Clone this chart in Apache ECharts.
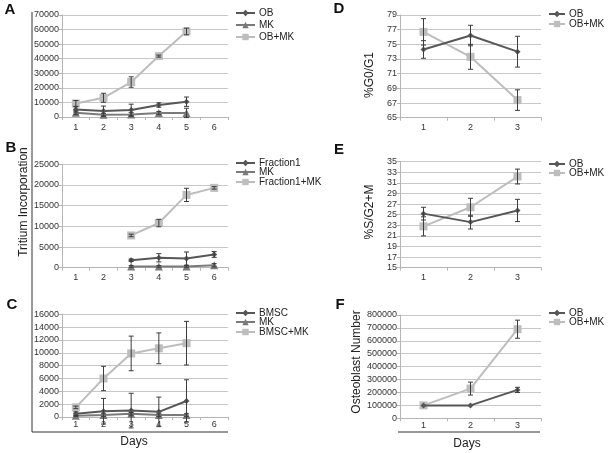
<!DOCTYPE html>
<html>
<head>
<meta charset="utf-8">
<script src="https://cdn.jsdelivr.net/npm/echarts@6/dist/echarts.min.js"></script>
<style>html,body{margin:0;padding:0;background:#fff}#c{width:612px;height:453px}</style>
</head>
<body>
<div id="c"></div>
<script>
// ---------- data ----------
const daysSix = ['1', '2', '3', '4', '5', '6'];
const daysThree = ['1', '2', '3'];

// Panel A
const aOB = [5200, 4100, 4800, 8200, 10500, null];
const aOBErr = [1800, 3400, 4000, 1500, 3200, null];
const aMK = [3000, 1500, 1800, 2800, 2800, null];
const aMKErr = [1200, 1000, 1200, 1000, 3200, null];
const aOBMK = [9300, 13200, 24000, 41800, 58700, null];
const aOBMKErr = [2000, 3100, 3600, 700, 2300, null];

// Panel B
const bF1 = [null, null, 1800, 2400, 2200, 3200];
const bF1Err = [null, null, 300, 1000, 1600, 700];
const bMK = [null, null, 300, 300, 300, 600];
const bMKErr = [null, null, 200, 200, 200, 400];
const bF1MK = [null, null, 7800, 10800, 17600, 19300];
const bF1MKErr = [null, null, 300, 900, 1600, 300];

// Panel C
const cBMSC = [500, 900, 1000, 800, 2500, null];
const cBMSCErr = [300, 2000, 2700, 2300, 3300, null];
const cMK = [200, 300, 500, 300, 300, null];
const cMKErr = [100, 200, 200, 200, 200, null];
const cBMSCMK = [1500, 6000, 9900, 10700, 11500, null];
const cBMSCMKErr = [200, 1900, 2700, 2400, 3400, null];

// Panel D (%G0/G1)
const dOB = [74.3, 76.2, 74.0];
const dOBErr = [1.2, 1.4, 2.1];
const dOBMK = [76.7, 73.3, 67.4];
const dOBMKErr = [1.8, 1.7, 1.4];

// Panel E (%S/G2+M)
const eOB = [25.2, 23.6, 25.8];
const eOBErr = [1.2, 1.3, 2.1];
const eOBMK = [22.8, 26.4, 32.2];
const eOBMKErr = [1.8, 1.7, 1.4];

// Panel F (Osteoblast number)
const fOB = [100000, 100000, 220000];
const fOBErr = [0, 0, 20000];
const fOBMK = [100000, 230000, 690000];
const fOBMKErr = [0, 50000, 70000];

// ---------- styles ----------
const C_DARK = '#575757';
const C_MID = '#7a7a7a';
const C_LIGHT = '#bdbdbd';
const C_ERR = '#3c3c3c';
const FONT = 'Liberation Sans, Arial, sans-serif';

const grids = [
  {left: 62, top: 15, width: 166, height: 102},
  {left: 62, top: 164.3, width: 166, height: 103.4},
  {left: 62, top: 314.3, width: 166, height: 102.7},
  {left: 400, top: 15, width: 141, height: 102.7},
  {left: 400, top: 161.7, width: 141, height: 106},
  {left: 400, top: 315, width: 141, height: 103.3}
];

function catAxis(g, cats, margin) {
  return {
    type: 'category', gridIndex: g, data: cats, boundaryGap: true,
    axisLine: {lineStyle: {color: '#b5b5b5'}},
    axisTick: {show: true, length: 3, lineStyle: {color: '#b5b5b5'}},
    axisLabel: {fontSize: 9, color: '#333', margin: margin, fontFamily: FONT}
  };
}
function valAxis(g, min, max, interval) {
  return {
    type: 'value', gridIndex: g, min: min, max: max, interval: interval,
    axisLine: {show: true, lineStyle: {color: '#b5b5b5'}},
    axisTick: {show: true, length: 3, lineStyle: {color: '#b5b5b5'}},
    splitLine: {lineStyle: {color: '#c8c8c8'}},
    axisLabel: {fontSize: 9, color: '#333', margin: 3, fontFamily: FONT,
      formatter: function (v) { return String(v); }}
  };
}

const symbolOf = {dark: ['diamond', 6], mid: ['triangle', 8], light: ['rect', 8]};
const colorOf = {dark: C_DARK, mid: C_MID, light: C_LIGHT};

function lineSeries(name, g, data, kind) {
  return {
    name: name, type: 'line', xAxisIndex: g, yAxisIndex: g, data: data,
    symbol: symbolOf[kind][0], symbolSize: symbolOf[kind][1], showSymbol: true,
    connectNulls: false,
    lineStyle: {color: colorOf[kind], width: 2},
    itemStyle: {color: colorOf[kind]},
    animation: false, z: kind === 'light' ? 2 : 3
  };
}
function errSeries(name, g, vals, errs) {
  const d = [];
  vals.forEach(function (v, i) {
    if (v != null && errs[i] != null && errs[i] > 0) d.push([i, v - errs[i], v + errs[i]]);
  });
  return {
    name: name, type: 'custom', xAxisIndex: g, yAxisIndex: g, data: d,
    encode: {x: 0, y: [1, 2]}, animation: false, z: 5, silent: true,
    renderItem: function (params, api) {
      const x = api.value(0);
      const lo = api.coord([x, api.value(1)]);
      const hi = api.coord([x, api.value(2)]);
      const w = 2.5;
      const st = {stroke: C_ERR, lineWidth: 1};
      return {type: 'group', children: [
        {type: 'line', shape: {x1: lo[0], y1: lo[1], x2: hi[0], y2: hi[1]}, style: st},
        {type: 'line', shape: {x1: hi[0] - w, y1: hi[1], x2: hi[0] + w, y2: hi[1]}, style: st},
        {type: 'line', shape: {x1: lo[0] - w, y1: lo[1], x2: lo[0] + w, y2: lo[1]}, style: st}
      ]};
    }
  };
}

function legendItem(name, left, centerY, w) {
  return {
    data: [name], left: left, top: centerY - 6, orient: 'vertical',
    itemWidth: w || 19, itemHeight: 8, itemGap: 0, selectedMode: false,
    textStyle: {fontSize: 10, color: '#222', fontFamily: FONT, padding: [0, 0, 0, -1]},
    padding: 0
  };
}

const series = [
  lineSeries('OB', 0, aOB, 'dark'), lineSeries('MK', 0, aMK, 'mid'), lineSeries('OB+MK', 0, aOBMK, 'light'),
  errSeries('eA1', 0, aOB, aOBErr), errSeries('eA2', 0, aMK, aMKErr), errSeries('eA3', 0, aOBMK, aOBMKErr),
  lineSeries('Fraction1', 1, bF1, 'dark'), lineSeries('MK', 1, bMK, 'mid'), lineSeries('Fraction1+MK', 1, bF1MK, 'light'),
  errSeries('eB1', 1, bF1, bF1Err), errSeries('eB2', 1, bMK, bMKErr), errSeries('eB3', 1, bF1MK, bF1MKErr),
  lineSeries('BMSC', 2, cBMSC, 'dark'), lineSeries('MK', 2, cMK, 'mid'), lineSeries('BMSC+MK', 2, cBMSCMK, 'light'),
  errSeries('eC1', 2, cBMSC, cBMSCErr), errSeries('eC2', 2, cMK, cMKErr), errSeries('eC3', 2, cBMSCMK, cBMSCMKErr),
  lineSeries('OB', 3, dOB, 'dark'), lineSeries('OB+MK', 3, dOBMK, 'light'),
  errSeries('eD1', 3, dOB, dOBErr), errSeries('eD2', 3, dOBMK, dOBMKErr),
  lineSeries('OB', 4, eOB, 'dark'), lineSeries('OB+MK', 4, eOBMK, 'light'),
  errSeries('eE1', 4, eOB, eOBErr), errSeries('eE2', 4, eOBMK, eOBMKErr),
  lineSeries('OB', 5, fOB, 'dark'), lineSeries('OB+MK', 5, fOBMK, 'light'),
  errSeries('eF1', 5, fOB, fOBErr), errSeries('eF2', 5, fOBMK, fOBMKErr)
];

const letterStyle = function (t, x, y) {
  return {type: 'text', x: x, y: y, style: {text: t, font: 'bold 15px ' + FONT, fill: '#111', textAlign: 'center', textVerticalAlign: 'middle'}};
};
const titleText = function (t, x, y, rot) {
  return {type: 'text', x: x, y: y, rotation: rot ? Math.PI / 2 : 0,
    style: {text: t, font: '12px ' + FONT, fill: '#222', textAlign: 'center', textVerticalAlign: 'middle'}};
};

const option = {
  backgroundColor: '#fff',
  animation: false,
  grid: grids,
  xAxis: [catAxis(0, daysSix, 6), catAxis(1, daysSix, 5), catAxis(2, daysSix, 3),
          catAxis(3, daysThree, 5), catAxis(4, daysThree, 5), catAxis(5, daysThree, 3)],
  yAxis: [valAxis(0, 0, 70000, 10000), valAxis(1, 0, 25000, 5000), valAxis(2, 0, 16000, 2000),
          valAxis(3, 65, 79, 2), valAxis(4, 15, 35, 2), valAxis(5, 0, 800000, 100000)],
  legend: [
    legendItem('OB', 235, 14), legendItem('MK', 235, 26), legendItem('OB+MK', 235, 38),
    legendItem('Fraction1', 235, 164), legendItem('MK', 235, 173), legendItem('Fraction1+MK', 235, 183),
    legendItem('BMSC', 235, 314), legendItem('MK', 235, 323), legendItem('BMSC+MK', 235, 333),
    legendItem('OB', 548, 15, 16), legendItem('OB+MK', 548, 25, 16),
    legendItem('OB', 548, 165, 16), legendItem('OB+MK', 548, 174, 16),
    legendItem('OB', 548, 314, 16), legendItem('OB+MK', 548, 323, 16)
  ],
  series: series,
  graphic: [
    {type: 'line', shape: {x1: 32, y1: 12, x2: 32, y2: 432}, style: {stroke: '#333', lineWidth: 1}},
    {type: 'line', shape: {x1: 32, y1: 432, x2: 228, y2: 432}, style: {stroke: '#333', lineWidth: 1}},
    {type: 'line', shape: {x1: 398, y1: 432, x2: 540, y2: 432}, style: {stroke: '#333', lineWidth: 1}},
    letterStyle('A', 10, 10), letterStyle('B', 11, 148), letterStyle('C', 12, 305),
    letterStyle('D', 339, 9), letterStyle('E', 339, 150), letterStyle('F', 340, 305),
    titleText('Tritium Incorporation', 24, 202, true),
    titleText('Days', 134, 442, false),
    titleText('Days', 467, 444, false),
    titleText('%G0/G1', 370, 75, true),
    titleText('%S/G2+M', 370, 212, true),
    titleText('Osteoblast Number', 357, 362, true)
  ]
};

const chart = echarts.init(document.getElementById('c'), null, {renderer: 'canvas'});
chart.setOption(option);
</script>
</body>
</html>
